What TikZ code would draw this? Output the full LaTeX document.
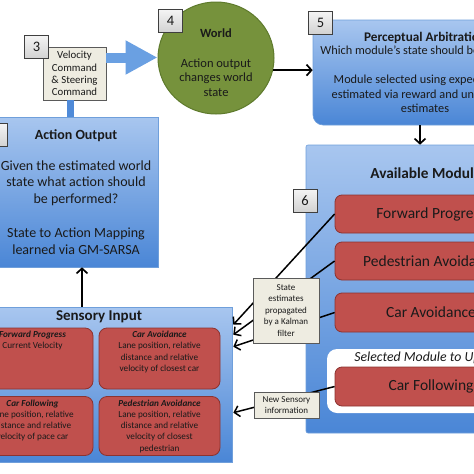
\documentclass[tikz,border=0pt]{standalone}
\usepackage{fontspec}
\setmainfont{Carlito}
\usetikzlibrary{arrows.meta,calc,shapes.geometric}
\definecolor{bTop}{HTML}{A8C6EF}
\definecolor{bBot}{HTML}{4A86D6}
\definecolor{bBord}{HTML}{6F9FDB}
\definecolor{rFill}{HTML}{C0504D}
\definecolor{rBord}{HTML}{8C3330}
\definecolor{gFill}{HTML}{76923C}
\definecolor{gBord}{HTML}{5E7A2C}
\definecolor{nTop}{HTML}{F4F4F4}
\definecolor{nBot}{HTML}{D2D2D2}
\definecolor{nBord}{HTML}{3F3F3F}
\definecolor{lFill}{HTML}{EEECE1}
\definecolor{lBord}{HTML}{5A5A5A}
\definecolor{arrBlue}{HTML}{6AA0E2}
\definecolor{conBlue}{HTML}{4F8AD8}
\definecolor{txt}{HTML}{1A1A1A}
\begin{document}
\begin{tikzpicture}[x=1pt,y=-1pt,
  bluebox/.style={draw=bBord, line width=0.6pt, top color=bTop, bottom color=bBot, inner sep=0pt, text=txt},
  redbox/.style={draw=rBord, line width=0.8pt, fill=rFill, rounded corners=7pt, inner sep=0pt, text=txt},
  modbox/.style={redbox, minimum width=192pt, font=\fontsize{15.5}{17}\selectfont},
  numbox/.style={draw=nBord, line width=0.8pt, top color=nTop, bottom color=nBot, minimum width=24pt, minimum height=23pt, inner sep=0pt, text=txt, font=\fontsize{14.5}{14.5}\selectfont},
  labelbox/.style={draw=lBord, line width=0.8pt, fill=lFill, inner sep=0pt, align=center, text=txt, font=\fontsize{9}{11.5}\selectfont},
  subtxt/.style={inner sep=0pt, align=center, text=txt, font=\fontsize{9.2}{11.2}\selectfont},
  blk/.style={line width=1.7pt, -{Straight Barb[length=5pt,width=11pt]}},
]
\useasboundingbox (0,0) rectangle (474,474);
\clip (0,0) rectangle (474,474);

% Action output
\node[bluebox, minimum width=164pt, minimum height=150pt, align=center,
      font=\fontsize{14}{16.8}\selectfont] (act) at (76,192)
  {\textbf{Action Output}\\[14pt]Given the estimated world\\state what action should\\be performed?\\[17pt]State to Action Mapping\\learned via GM-SARSA};
\node[numbox] (n2) at (-4.5,135) {};

% Velocity command + blue arrows
\node[ellipse, draw=gBord, line width=1pt, fill=gFill, minimum width=116pt, minimum height=112pt, inner sep=0pt] (world) at (216,58) {};
\node[labelbox, minimum width=63pt, minimum height=53pt, font=\fontsize{10.8}{12.4}\selectfont] (vel) at (74.5,73.5) {Velocity\\Command\\\& Steering\\Command};
\draw[conBlue, line width=7pt] ([xshift=-4pt]vel.south) -- ([xshift=-4pt]vel.south |- act.north);
\draw[arrBlue, line width=10pt, -{Triangle[length=32pt,width=32pt]}] ([yshift=16pt]vel.east) -- ([yshift=16pt]vel.east -| world.west);
\node[numbox] (n3) at (36.5,47) {3};

% World
\node[align=center, inner sep=0pt, text=txt, font=\fontsize{12.5}{14.5}\selectfont] (worldtxt) at (216,62.5)
  {\textbf{World}\\[15pt]Action output\\changes world\\state};
\node[numbox] (n4) at (170.5,21) {4};

% Perceptual arbitration
\node[bluebox, rounded corners=10pt, minimum width=224pt, minimum height=105pt, align=center,
      font=\fontsize{12.3}{14.5}\selectfont] (perc) at (425,72.5)
  {{\fontsize{13.2}{14.5}\selectfont\textbf{Perceptual Arbitration}}\\[-1.5pt]Which module's state should be updated?\\[15pt]Module selected using expected loss\\estimated via reward and uncertainty\\estimates};
\node[numbox] (n5) at (320.5,22.5) {5};
\draw[blk] (world.-12) -- (world.-12 -| perc.west);

% Available modules
\node[bluebox, rounded corners=2pt, minimum width=234pt, minimum height=288pt] (avail) at (423,289) {};
\node[inner sep=0pt, text=txt, font=\fontsize{15.3}{17}\selectfont\bfseries] (availt) at (429,173) {Available Modules};
\node[fill=white, rounded corners=10pt, minimum width=204pt, minimum height=64pt, inner sep=0pt] (sel) at (429,381) {};
\node[inner sep=0pt, text=txt, font=\fontsize{13.8}{15}\selectfont\itshape] (selt) at (430,358) {Selected Module to Update};
\node[modbox, minimum height=38pt] (fp) at (431,214) {Forward Progress};
\node[modbox, minimum height=38pt] (pa) at (431,261) {Pedestrian Avoidance};
\node[modbox, minimum height=39pt] (ca) at (431,312.5) {Car Avoidance};
\node[modbox, minimum height=39pt] (cf) at (431,386.5) {Car Following};
\node[numbox] (n6) at (305,200.5) {6};
\draw[blk] ([xshift=-5pt]perc.south) -- ([xshift=-5pt]perc.south |- avail.north);

% Sensory input
\node[bluebox, minimum width=272pt, minimum height=155pt] (sens) at (96,384.5) {};
\node[inner sep=0pt, text=txt, font=\fontsize{15}{17}\selectfont\bfseries] (senst) at (99,317) {Sensory Input};
\node[redbox, rounded corners=8pt, minimum width=121pt, minimum height=61pt] (s1) at (32.5,358.5) {};
\node[redbox, rounded corners=8pt, minimum width=121pt, minimum height=61pt] (s2) at (159.5,358.5) {};
\node[redbox, rounded corners=8pt, minimum width=121pt, minimum height=59pt] (s3) at (32.5,426) {};
\node[redbox, rounded corners=8pt, minimum width=121pt, minimum height=59pt] (s4) at (159.5,426) {};
\node[subtxt, anchor=north] (s1t) at ([yshift=-3.5pt]s1.north) {\textbf{\textit{Forward Progress}}\\Current Velocity};
\node[subtxt, anchor=north] (s2t) at ([yshift=-3.5pt]s2.north) {\textbf{\textit{Car Avoidance}}\\Lane position, relative\\distance and relative\\velocity of closest car};
\node[subtxt, anchor=north] (s3t) at ([yshift=-3.5pt]s3.north) {\textbf{\textit{Car Following}}\\Lane position, relative\\distance and relative\\velocity of pace car};
\node[subtxt, anchor=north] (s4t) at ([yshift=-3.5pt]s4.north) {\textbf{\textit{Pedestrian Avoidance}}\\Lane position, relative\\distance and relative\\velocity of closest\\pedestrian};
\draw[blk] ([xshift=6pt]act.south |- sens.north) -- ([xshift=6pt]act.south);

% Connectors from modules to sensory input
\draw[blk, line width=1.5pt] (fp.west) -- ($(sens.north east)+(1,18)$);
\draw[blk, line width=1.5pt] (pa.west) -- ($(sens.north east)+(1,28)$);
\draw[blk, line width=1.5pt] (ca.west) -- ($(sens.north east)+(1,40)$);
\draw[blk, line width=1.5pt] (cf.west) -- ($(sens.north east)+(1,106)$);
\node[labelbox, minimum width=66pt, minimum height=65pt] (kal) at (286,310.5) {State\\estimates\\propagated\\by a Kalman\\filter};
\node[labelbox, minimum width=65pt, minimum height=26pt] (newsens) at (286.5,405) {New Sensory\\information};
\end{tikzpicture}
\end{document}
